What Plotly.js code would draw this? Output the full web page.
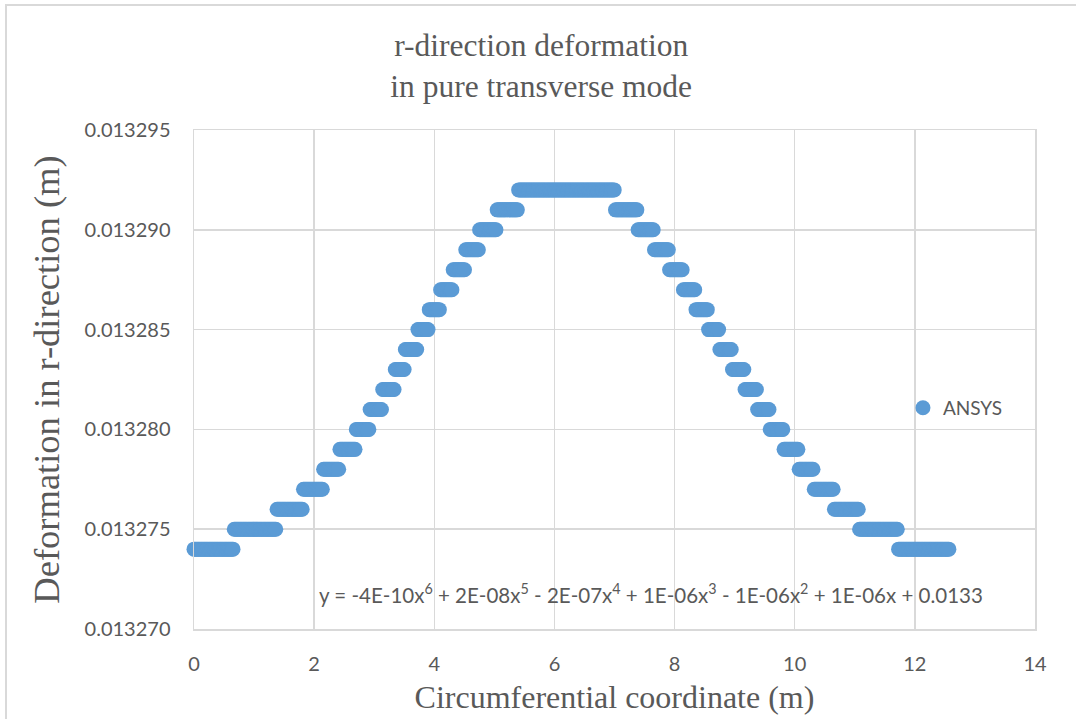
<!DOCTYPE html>
<html>
<head>
<meta charset="utf-8">
<script src="https://cdn.plot.ly/plotly-3.0.1.min.js"></script>
<style>
  html, body { margin: 0; padding: 0; background: #ffffff; }
  #frame {
    position: absolute; left: 5px; top: 4px; width: 1200px; height: 800px;
    border-left: 2px solid #d9d9d9; border-top: 2px solid #d9d9d9;
    pointer-events: none;
  }
  #chart { position: absolute; left: 0; top: 0; width: 1076px; height: 719px; }
</style>
</head>
<body>
<div id="frame"></div>
<div id="chart"></div>
<script>
// Radial deformation (m) along the ring, node results exported from ANSYS.
// The results are stepped: each run of neighbouring nodes shares one printed value.
const stepLevel = [
  0.013274, 0.013275, 0.013276, 0.013277, 0.013278, 0.013279, 0.013280, 0.013281,
  0.013282, 0.013283, 0.013284, 0.013285, 0.013286, 0.013287, 0.013288, 0.013289,
  0.013290, 0.013291, 0.013292,
  0.013291, 0.013290, 0.013289, 0.013288, 0.013287, 0.013286, 0.013285, 0.013284,
  0.013283, 0.013282, 0.013281, 0.013280, 0.013279, 0.013278, 0.013277, 0.013276,
  0.013275, 0.013274
];
// number of consecutive nodes reporting each value
const stepNodeCount = [
  32, 34, 21, 16, 13, 13, 11, 10, 10, 8, 10, 9, 9, 10, 10, 11, 14, 17,
  77,
  18, 13, 12, 11, 10, 10, 9, 10, 10, 10, 10, 11, 12, 12, 16, 20, 31, 41
];
// circumferential node pitch of the mesh (m): 600 elements around a 4*pi m ring
const nodePitch = 4 * Math.PI / 600;

const xTickVals = [0, 2, 4, 6, 8, 10, 12, 14];
const yTickVals = [0.013270, 0.013275, 0.013280, 0.013285, 0.013290, 0.013295];
const seriesName = 'ANSYS';
const trendText = 'y = -4E-10x<sup>6</sup> + 2E-08x<sup>5</sup> - 2E-07x<sup>4</sup> + 1E-06x<sup>3</sup> - 1E-06x<sup>2</sup> + 1E-06x + 0.0133';

// expand the runs into one point per node
const xs = [], ys = [];
let node = 0;
stepLevel.forEach((lvl, i) => {
  for (let k = 0; k < stepNodeCount[i]; k++) {
    xs.push(node * nodePitch);
    ys.push(lvl);
    node++;
  }
});

const grey = '#595959';
const gridCol = '#d9d9d9';
const serif = '"Liberation Serif", "Times New Roman", serif';
const sans = 'Lato, sans-serif';

const trace = {
  type: 'scatter', mode: 'markers', name: seriesName,
  x: xs, y: ys, cliponaxis: false,
  marker: { color: '#5b9bd5', size: 15, line: { width: 0 } },
  showlegend: true
};

const layout = {
  width: 1076, height: 719,
  margin: { l: 194, r: 41, t: 130, b: 90 },
  paper_bgcolor: 'rgba(0,0,0,0)', plot_bgcolor: 'rgba(0,0,0,0)',
  font: { family: sans, color: grey, size: 20 },
  title: {
    text: 'r-direction deformation<br>in pure transverse mode',
    font: { family: serif, size: 31.5, color: grey },
    x: 0.503, xref: 'container', y: 0.922, yref: 'container', yanchor: 'middle'
  },
  xaxis: {
    range: [0, 14], tickvals: xTickVals, ticktext: xTickVals.map(String),
    showgrid: true, gridcolor: gridCol, gridwidth: 1.5,
    showline: true, mirror: true, linecolor: gridCol, linewidth: 1.5,
    zeroline: false, ticks: '', ticklabelstandoff: 16,
    tickfont: { family: sans, size: 20, color: grey },
    title: {
      text: 'Circumferential coordinate (m)', standoff: 12,
      font: { family: serif, size: 32, color: grey }
    }
  },
  yaxis: {
    range: [0.013270, 0.013295], tickvals: yTickVals, tickformat: '.6f',
    showgrid: true, gridcolor: gridCol, gridwidth: 1.5,
    showline: true, mirror: true, linecolor: gridCol, linewidth: 1.5,
    zeroline: false, ticks: '', ticklabelstandoff: 18,
    tickfont: { family: sans, size: 20, color: grey },
    title: {
      text: 'Deformation in r-direction (m)', standoff: 14,
      font: { family: serif, size: 36.5, color: grey }
    }
  },
  legend: {
    x: 0.843, xanchor: 'left', y: 0.443, yanchor: 'middle',
    bgcolor: 'rgba(0,0,0,0)', borderwidth: 0,
    font: { family: sans, size: 19, color: grey },
    itemwidth: 30
  },
  annotations: [{
    text: trendText, xref: 'x', yref: 'y', x: 7.6, y: 0.0132718,
    showarrow: false, xanchor: 'center', yanchor: 'middle',
    font: { family: sans, size: 20.5, color: grey }
  }],
  hovermode: false
};

Plotly.newPlot('chart', [trace], layout, { displayModeBar: false, staticPlot: true });
</script>
</body>
</html>
